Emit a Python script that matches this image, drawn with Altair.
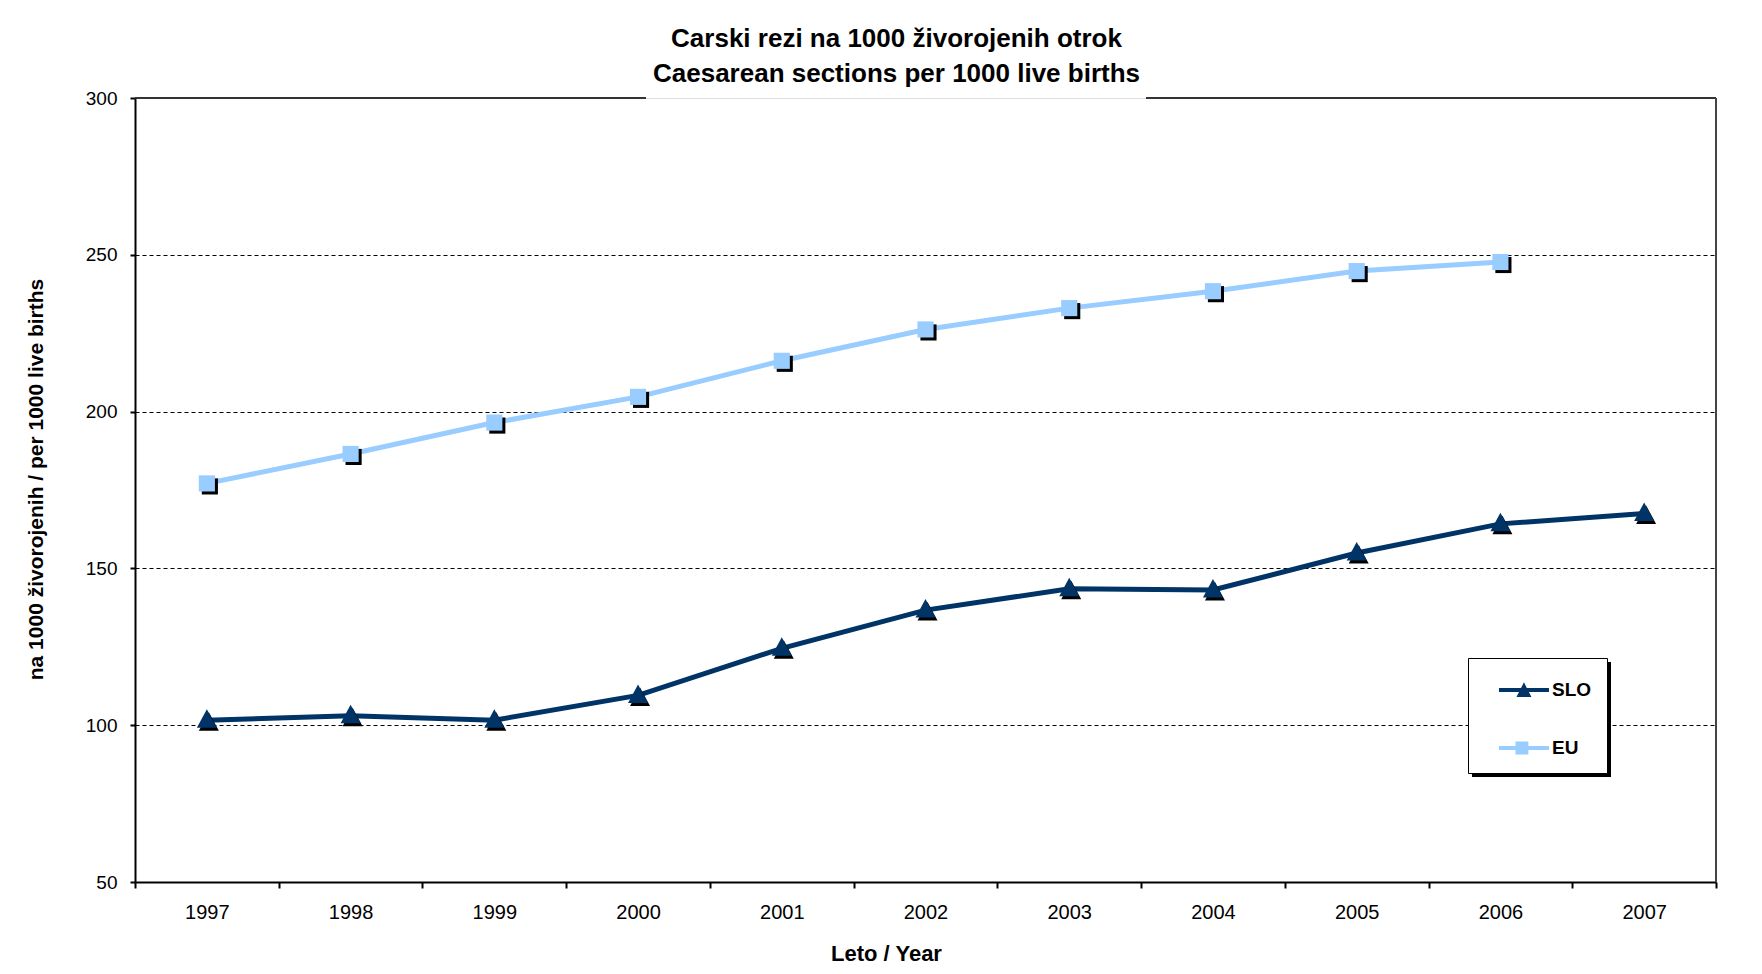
import altair as alt
import pandas as pd

years = ["1997", "1998", "1999", "2000", "2001", "2002", "2003", "2004", "2005", "2006", "2007"]
slo_values = [101.6, 103.0, 101.6, 109.5, 124.5, 136.7, 143.5, 143.1, 154.9, 164.2, 167.5]
eu_values = [177.1, 186.5, 196.5, 204.7, 216.2, 226.2, 233.0, 238.4, 244.8, 247.7]
series_names = ["SLO", "EU"]
series_colors = ["#003366", "#99CCFF"]
y_ticks = [50, 100, 150, 200, 250, 300]

title_lines = ["Carski rezi na 1000 živorojenih otrok", "Caesarean sections per 1000 live births"]
x_title = "Leto / Year"
y_title = "na 1000 živorojenih / per 1000 live births"

rows = []
for yr, v in zip(years, slo_values):
    rows.append({"year": yr, "value": v, "series": "SLO"})
for yr, v in zip(years, eu_values):
    rows.append({"year": yr, "value": v, "series": "EU"})
df = pd.DataFrame(rows)

FONT = "Liberation Sans, Arial, sans-serif"
W, H = 1581, 784

# legend symbols: line with marker (custom SVG paths)
path_slo = ("M-0.06,-0.12 L2.88,-0.12 L2.88,0.12 L-0.06,0.12 Z "
            "M0.97,0.41 L1.41,-0.45 L1.85,0.41 Z")
path_eu = ("M-0.06,-0.12 L2.88,-0.12 L2.88,0.12 L-0.06,0.12 Z "
           "M0.91,-0.38 L1.67,-0.38 L1.67,0.38 L0.91,0.38 Z")

LEG_X, LEG_Y = 1333, 560
color_scale = alt.Scale(domain=series_names, range=series_colors)
legend_def = alt.Legend(
    title=None, orient="none", legendX=LEG_X, legendY=LEG_Y,
    fillColor="white", strokeColor="black", padding=15,
    symbolSize=1156, symbolStrokeWidth=0, labelOffset=35, rowPadding=31,
    labelFont=FONT, labelFontSize=19, labelFontWeight="bold", labelColor="black",
)

x_enc = alt.X(
    "year:O",
    scale=alt.Scale(type="band", paddingInner=0, paddingOuter=0),
    axis=alt.Axis(
        tickBand="extent", labelAngle=0, labelFont=FONT, labelFontSize=20,
        labelColor="black", labelPadding=14, tickSize=6, tickWidth=2,
        tickColor="black", domainColor="black", domainWidth=2, grid=False,
        title=x_title, titleFont=FONT, titleFontSize=22, titleFontWeight="bold",
        titleColor="black", titleX=751, titleY=78, titleAlign="center",
        titleBaseline="alphabetic",
    ),
)
y_enc = alt.Y(
    "value:Q",
    scale=alt.Scale(domain=[50, 300], nice=False, zero=False),
    axis=alt.Axis(
        values=y_ticks, labelFont=FONT, labelFontSize=19, labelColor="black",
        labelPadding=13, tickSize=5, tickWidth=2, tickColor="black",
        domainColor="black", domainWidth=2, grid=True, gridDash=[4, 3],
        gridColor="#000000", gridWidth=1.2,
        gridOpacity={"condition": {"test": "datum.value >= 300 || datum.value <= 50", "value": 0}, "value": 1},
        title=y_title, titleFont=FONT, titleFontSize=21, titleFontWeight="bold",
        titleColor="black", titleX=-99, titleY=381, titleAngle=270,
        titleAlign="center", titleBaseline="middle",
    ),
)

base = alt.Chart(df)

lines = base.mark_line(strokeWidth=5).encode(
    x=x_enc, y=y_enc,
    color=alt.Color("series:N", scale=color_scale, legend=legend_def),
)

tri = "M0,-1.1 L-1,0.75 L1,0.75 Z"
slo_shadow = base.transform_filter("datum.series == 'SLO'").mark_point(
    shape=tri, filled=True, size=400, color="black", opacity=1, xOffset=2, yOffset=3
).encode(x=x_enc, y=y_enc)
slo_pts = base.transform_filter("datum.series == 'SLO'").mark_point(
    shape=tri, filled=True, size=400, color=series_colors[0], opacity=1
).encode(x=x_enc, y=y_enc)
eu_shadow = base.transform_filter("datum.series == 'EU'").mark_point(
    shape="square", filled=True, size=260, color="black", opacity=1, xOffset=3, yOffset=3
).encode(x=x_enc, y=y_enc)
eu_pts = base.transform_filter("datum.series == 'EU'").mark_point(
    shape="square", filled=True, size=260, color=series_colors[1], opacity=1
).encode(x=x_enc, y=y_enc)

legend_layer = base.transform_filter("false").mark_point(filled=True, opacity=1).encode(
    x=x_enc, y=y_enc,
    shape=alt.Shape("series:N", scale=alt.Scale(domain=series_names, range=[path_slo, path_eu]), legend=legend_def),
    color=alt.Color("series:N", scale=color_scale, legend=legend_def),
)

frame_df = pd.DataFrame({"k": [0]})
frame = alt.Chart(frame_df)
top_left = frame.mark_rule(color="#333333", strokeWidth=2).encode(
    x=alt.value(0), x2=alt.value(511), y=alt.value(0))
top_right = frame.mark_rule(color="#333333", strokeWidth=2).encode(
    x=alt.value(1011), x2=alt.value(W), y=alt.value(0))
right = frame.mark_rule(color="#444444", strokeWidth=2).encode(
    x=alt.value(W), y=alt.value(0), y2=alt.value(H))
# drop shadow of the legend box
legend_shadow = frame.mark_rect(color="black").encode(
    x=alt.value(LEG_X + 4), x2=alt.value(LEG_X + 4 + 139),
    y=alt.value(LEG_Y + 4), y2=alt.value(LEG_Y + 4 + 115))

chart = alt.layer(
    top_left, top_right, right, legend_shadow, lines, slo_shadow, eu_shadow, slo_pts, eu_pts, legend_layer
).properties(
    width=W, height=H,
    title=alt.TitleParams(
        title_lines, font=FONT, fontSize=26, fontWeight="bold", color="black",
        lineHeight=35, anchor="middle", dx=-29, dy=2, offset=4,
    ),
    autosize=alt.AutoSizeParams(type="none"),
    padding={"left": 127, "top": 90, "right": 30, "bottom": 84},
).configure_view(stroke=None).configure(background="white")

chart.save("out.html", embed_options={"renderer": "svg", "actions": False})
